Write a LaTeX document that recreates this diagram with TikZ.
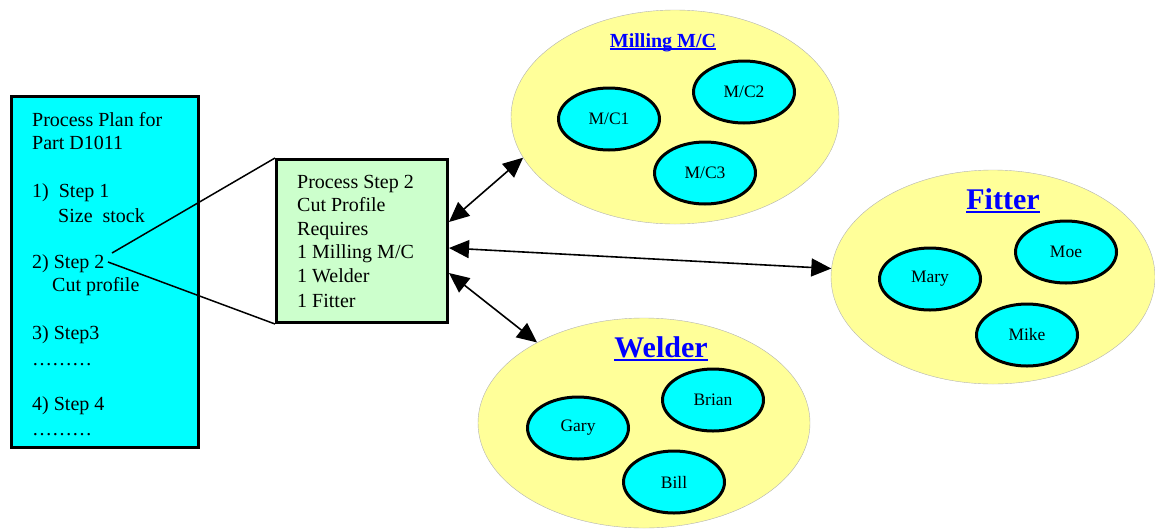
\documentclass[tikz,border=0pt]{standalone}
\usepackage{fontspec}
\setmainfont{Liberation Serif}
\usetikzlibrary{shapes.geometric,arrows.meta}

\definecolor{plancyan}{HTML}{00FFFF}
\definecolor{stepgreen}{HTML}{CCFFCC}
\definecolor{poolyellow}{HTML}{FFFF99}
\definecolor{titleblue}{HTML}{0000FF}

% underlined group title: rule sits just under the baseline
\newsavebox\ulinebox
\newcommand\ultitle[1]{\sbox\ulinebox{#1}\rlap{\usebox\ulinebox}\rule[-0.14em]{\wd\ulinebox}{0.07em}}

\tikzset{
  planbox/.style={draw, line width=3pt, fill=plancyan, inner sep=0pt},
  stepbox/.style={draw, line width=3pt, fill=stepgreen, inner sep=0pt},
  boxtext/.style={anchor=base west, inner sep=0pt, font=\fontsize{20}{24}\selectfont},
  pool/.style={ellipse, draw=black!30, line width=0.4pt, fill=poolyellow, inner sep=0pt,
    minimum width=328pt, minimum height=214pt},
  member/.style={ellipse, draw, line width=3pt, fill=plancyan, inner sep=0pt,
    minimum width=101pt, minimum height=62pt, font=\fontsize{17.5}{20}\selectfont},
  pooltitle/.style={anchor=base, inner sep=0pt, text=titleblue},
  link/.style={line width=1.5pt},
  dbl/.style={line width=1.6pt, {Triangle[length=20pt,width=18pt]}-{Triangle[length=20pt,width=18pt]}}
}

\begin{document}
\begin{tikzpicture}[x=1pt,y=-1pt]
\useasboundingbox (0,0) rectangle (1155,528);

% resource pools
\node[pool] (mill) at (675,117) {};
\node[pool, minimum width=324pt] (fit) at (993,277) {};
\node[pool, minimum width=332pt, minimum height=210pt] (weld) at (644,423) {};

\node[pooltitle, font=\bfseries\fontsize{20}{24}\selectfont] (millT) at (663,47) {\ultitle{Milling M/C}};
\node[pooltitle, font=\bfseries\fontsize{30}{34}\selectfont] (fitT) at (1003,209) {\ultitle{Fitter}};
\node[pooltitle, font=\bfseries\fontsize{30}{34}\selectfont] (weldT) at (661,357) {\ultitle{Welder}};

\node[member] (mc1) at (609,119) {M/C1};
\node[member] (mc2) at (744,92) {M/C2};
\node[member] (mc3) at (705,173) {M/C3};

\node[member] (mary) at (930,279) {Mary};
\node[member] (moe) at (1066,252) {Moe};
\node[member] (mike) at (1027,335) {Mike};

\node[member] (gary) at (578,428) {Gary};
\node[member] (brian) at (713,400) {Brian};
\node[member] (bill) at (674,482) {Bill};

% process plan
\node[planbox, minimum width=187pt, minimum height=351pt] (plan) at (105,272) {};
\node[boxtext] (p1) at (32,126) {Process Plan for};
\node[boxtext] (p2) at (32,149) {Part D1011};
\node[boxtext] (p3) at (32,197) {1)~~Step 1};
\node[boxtext] (p4) at (58,222) {Size~~stock};
\node[boxtext] (p5) at (32,268) {2) Step 2};
\node[boxtext] (p6) at (52,291) {Cut profile};
\node[boxtext] (p7) at (32,339) {3) Step3};
\node[boxtext] (p8) at (32,365) {………};
\node[boxtext] (p9) at (32,410) {4) Step 4};
\node[boxtext] (p10) at (32,435) {………};

% expanded step
\node[stepbox, minimum width=171pt, minimum height=163pt] (step) at (362,241) {};
\node[boxtext] (s1) at (297,188) {Process Step 2};
\node[boxtext] (s2) at (297,211) {Cut Profile};
\node[boxtext] (s3) at (297,235) {Requires};
\node[boxtext] (s4) at (297,258) {1 Milling M/C};
\node[boxtext] (s5) at (297,282) {1 Welder};
\node[boxtext] (s6) at (297,307) {1 Fitter};

% zoom lines from step 2 to its detail box
\coordinate (s2a) at (112,253);
\coordinate (s2b) at (108,262);
\draw[link] (s2a) -- (step.north west);
\draw[link] (s2b) -- (step.south west);

% resource requirements
\draw[dbl] ([yshift=19pt]step.east) -- (mill.195.6);
\draw[dbl] ([yshift=-7pt]step.east) -- (fit.177.2);
\draw[dbl] ([yshift=-32pt]step.east) -- (weld.143.2);
\end{tikzpicture}
\end{document}
